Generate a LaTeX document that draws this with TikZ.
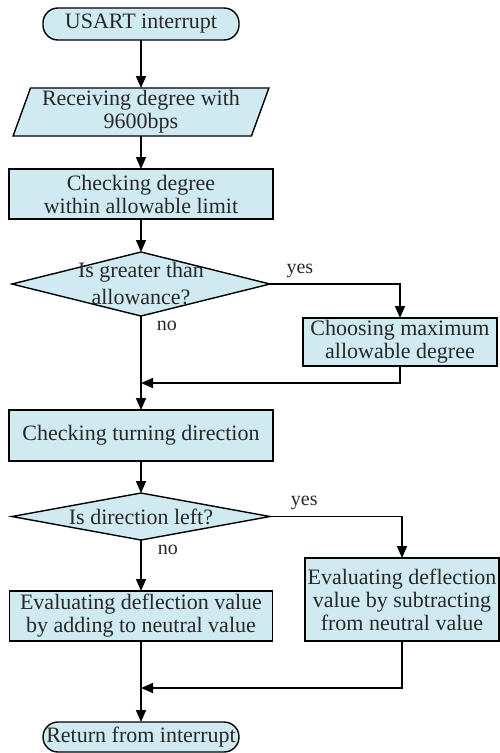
\documentclass[tikz,border=0pt]{standalone}
\usepackage{fontspec}
\setmainfont{Liberation Serif}
\usetikzlibrary{positioning,shapes.geometric,arrows.meta}
\definecolor{boxblue}{RGB}{208,234,242}
\definecolor{inkgray}{RGB}{40,40,40}
\tikzset{
  blk/.style={draw=black, fill=boxblue, line width=1.4pt, text=inkgray,
    font=\fontsize{22}{23}\selectfont, align=center, inner sep=0pt, outer sep=0pt},
  term/.style={blk, rectangle, rounded corners=15pt, minimum width=196pt, minimum height=32pt},
  io/.style={blk, trapezium, trapezium left angle=70, trapezium right angle=110,
    minimum width=256pt, minimum height=48pt},
  proc/.style={blk, rectangle, minimum width=264pt, minimum height=50pt},
  dec/.style={blk, diamond, minimum width=258pt, minimum height=64pt},
  dectext/.style={text=inkgray, font=\fontsize{22}{27}\selectfont, align=center, inner sep=0pt},
  arr/.style={-{Triangle[length=12pt,width=10pt]}, line width=1.6pt},
  lbl/.style={text=inkgray, font=\fontsize{20}{22}\selectfont, inner sep=0pt}
}
\begin{document}
\begin{tikzpicture}
	\useasboundingbox (0pt,0pt) rectangle (499pt,-753pt);
	\node[term]		(start) at (141pt,-24pt)	{USART interrupt};
	\node[io]		(recv) [below=48pt of start]	{Receiving degree with\\9600bps};
	\node[proc]		(chk) [below=33pt of recv]	{Checking degree\\within allowable limit};
	\node[dec, label={[dectext]center:{Is greater than\\allowance?}}]
					(dia1) [below=33pt of chk]	{};
	\node[proc, minimum width=194pt, minimum height=48pt, anchor=north]
					(maxdeg) at (400pt,-318pt)	{Choosing maximum\\allowable degree};
	\node[proc, minimum height=51pt]
					(turn) [below=94pt of dia1]	{Checking turning direction};
	\node[dec, minimum height=47pt, label={[dectext]center:{Is direction left?}}]
					(dia2) [below=32pt of turn]	{};
	\node[proc, minimum width=263pt]
					(addv) [below=51pt of dia2]	{Evaluating deflection value\\by adding to neutral value};
	\node[proc, minimum width=194pt, minimum height=83pt, anchor=north]
					(subv) at (402pt,-558pt)	{Evaluating deflection\\value by subtracting\\from neutral value};
	\node[term, minimum height=30pt]
					(stop) [below=81pt of addv]	{Return from interrupt};
	\coordinate		(j1) at (141pt,-383pt);
	\coordinate		(j2) at (141pt,-688pt);
	\draw[arr] (start) -- (recv);
	\draw[arr] (recv) -- (chk);
	\draw[arr] (chk) -- (dia1);
	\draw[arr] (dia1) -- node[lbl, pos=0.11, right=15pt] {no} (turn);
	\draw[arr] (dia1.east) -| node[lbl, pos=0.115, above=5pt] {yes} (maxdeg.north);
	\draw[arr] (maxdeg.south) |- (j1);
	\draw[arr] (turn) -- (dia2);
	\draw[arr] (dia2) -- node[lbl, pos=0.2, right=16pt] {no} (addv);
	\draw[arr] (dia2.east) -| node[lbl, pos=0.13, above=6pt] {yes} (subv.north);
	\draw[arr] (subv.south) |- (j2);
	\draw[arr] (addv) -- (stop);
\end{tikzpicture}
\end{document}
